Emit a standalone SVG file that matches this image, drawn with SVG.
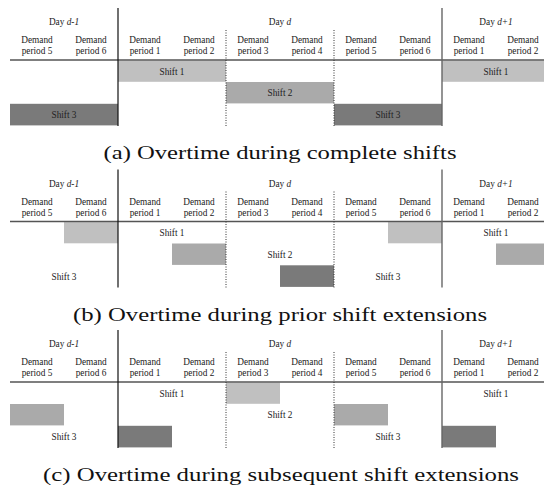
<svg xmlns="http://www.w3.org/2000/svg" width="544" height="490" viewBox="0 0 544 490">
<style>
.t{font-family:"Liberation Serif","Times New Roman","DejaVu Serif",serif;font-size:9.3px;fill:#222;text-anchor:middle}
.cap{font-family:"Liberation Serif","DejaVu Serif",serif;font-size:18.5px;fill:#111;text-anchor:middle}
.s1{fill:#c0c0c0}.s2{fill:#aaaaaa}.s3{fill:#7a7a7a}
.hl{stroke:#555;stroke-width:1.3}
.v1{stroke:#111;stroke-width:1.2}
.v2{stroke:#666;stroke-width:1.4}
.dt{stroke:#333;stroke-width:1;stroke-dasharray:1,1.5}
</style>
<defs>
<g id="header">
<text class="t" x="64" y="25">Day <tspan font-style="italic">d-1</tspan></text>
<text class="t" x="280" y="25">Day <tspan font-style="italic">d</tspan></text>
<text class="t" x="496" y="25">Day <tspan font-style="italic">d+1</tspan></text>
<text class="t" x="37" y="43">Demand</text><text class="t" x="37" y="54">period 5</text>
<text class="t" x="91" y="43">Demand</text><text class="t" x="91" y="54">period 6</text>
<text class="t" x="145" y="43">Demand</text><text class="t" x="145" y="54">period 1</text>
<text class="t" x="199" y="43">Demand</text><text class="t" x="199" y="54">period 2</text>
<text class="t" x="253" y="43">Demand</text><text class="t" x="253" y="54">period 3</text>
<text class="t" x="307" y="43">Demand</text><text class="t" x="307" y="54">period 4</text>
<text class="t" x="361" y="43">Demand</text><text class="t" x="361" y="54">period 5</text>
<text class="t" x="415" y="43">Demand</text><text class="t" x="415" y="54">period 6</text>
<text class="t" x="469" y="43">Demand</text><text class="t" x="469" y="54">period 1</text>
<text class="t" x="523" y="43">Demand</text><text class="t" x="523" y="54">period 2</text>
</g>
<g id="grid">
<line class="hl" x1="10" y1="60" x2="544" y2="60"/>
<line class="v1" x1="118" y1="8" x2="118" y2="126"/>
<line class="v2" x1="442" y1="8" x2="442" y2="126"/>
<line class="dt" x1="226" y1="30" x2="226" y2="126"/>
<line class="dt" x1="334" y1="30" x2="334" y2="126"/>
</g>
</defs>

<g id="panel-a">
<g id="a-shifts">
<g id="a-shift1-d"><rect class="s1" x="118" y="60.6" width="108" height="21.2"/><text class="t" x="172" y="74.5">Shift 1</text></g>
<g id="a-shift2-d"><rect class="s2" x="226" y="82" width="108" height="21.4"/><text class="t" x="280" y="96">Shift 2</text></g>
<g id="a-shift3-dm1"><rect class="s3" x="10" y="103.8" width="108" height="21.6"/><text class="t" x="64" y="118">Shift 3</text></g>
<g id="a-shift3-d"><rect class="s3" x="334" y="103.8" width="108" height="21.6"/><text class="t" x="388" y="118">Shift 3</text></g>
<g id="a-shift1-dp1"><rect class="s1" x="442" y="60.6" width="102" height="21.2"/><text class="t" x="496" y="74.5">Shift 1</text></g>
</g>
<g id="a-connectors"><use href="#grid"/></g>
<use href="#header"/>
<text class="cap" x="280" y="159" textLength="353" lengthAdjust="spacingAndGlyphs">(a) Overtime during complete shifts</text>
</g>

<g id="panel-b" transform="translate(0,161.5)">
<g id="b-shifts">
<g id="b-ot1"><rect class="s1" x="64" y="60.6" width="54" height="21.2"/></g>
<g id="b-ot2"><rect class="s2" x="172" y="82" width="54" height="21.4"/></g>
<g id="b-ot3"><rect class="s3" x="280" y="103.8" width="54" height="21.6"/></g>
<g id="b-ot4"><rect class="s1" x="388" y="60.6" width="54" height="21.2"/></g>
<g id="b-ot5"><rect class="s2" x="496" y="82" width="48" height="21.4"/></g>
<g id="b-labels">
<text class="t" x="172" y="74.5">Shift 1</text>
<text class="t" x="280" y="96">Shift 2</text>
<text class="t" x="64" y="118">Shift 3</text>
<text class="t" x="388" y="118">Shift 3</text>
<text class="t" x="496" y="74.5">Shift 1</text>
</g>
</g>
<g id="b-connectors"><use href="#grid"/></g>
<use href="#header"/>
<text class="cap" x="280" y="159" textLength="414" lengthAdjust="spacingAndGlyphs">(b) Overtime during prior shift extensions</text>
</g>

<g id="panel-c" transform="translate(0,322)">
<g id="c-shifts">
<g id="c-ot1"><rect class="s1" x="226" y="60.6" width="54" height="21.2"/></g>
<g id="c-ot2"><rect class="s2" x="10" y="82" width="54" height="21.4"/></g>
<g id="c-ot3"><rect class="s3" x="118" y="103.8" width="54" height="21.6"/></g>
<g id="c-ot4"><rect class="s2" x="334" y="82" width="54" height="21.4"/></g>
<g id="c-ot5"><rect class="s3" x="442" y="103.8" width="54" height="21.6"/></g>
<g id="c-labels">
<text class="t" x="172" y="74.5">Shift 1</text>
<text class="t" x="280" y="96">Shift 2</text>
<text class="t" x="64" y="118">Shift 3</text>
<text class="t" x="388" y="118">Shift 3</text>
<text class="t" x="496" y="74.5">Shift 1</text>
</g>
</g>
<g id="c-connectors"><use href="#grid"/></g>
<use href="#header"/>
<text class="cap" x="281" y="159" textLength="476" lengthAdjust="spacingAndGlyphs">(c) Overtime during subsequent shift extensions</text>
</g>
</svg>
